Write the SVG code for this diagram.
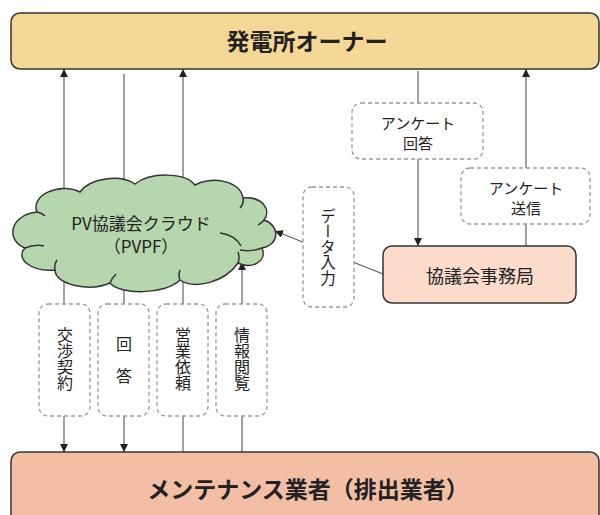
<svg xmlns="http://www.w3.org/2000/svg" width="600" height="515" viewBox="0 0 600 515">
<defs>
<marker id="ah" viewBox="0 0 8 8" refX="8" refY="4" markerWidth="8" markerHeight="8" markerUnits="userSpaceOnUse" orient="auto-start-reverse">
<path d="M0,0 L8,4 L0,8 z" fill="#222"/>
</marker>
<style>
text{font-family:"Noto Sans CJK JP","Noto Sans",sans-serif;fill:#222;dominant-baseline:central;text-anchor:middle}
.big{font-size:23px;font-weight:700}
.mid{font-size:18px}
.sm{font-size:15px}
.vt{font-size:16px;writing-mode:vertical-rl}
.solid{stroke:#333;stroke-width:1.5}
.dash{fill:#fff;stroke:#999;stroke-width:1.3;stroke-dasharray:4 3}
.conn line{stroke:#444;stroke-width:1}
.hook{fill:none;stroke:#333;stroke-width:1.5}
</style>
</defs>
<g id="connectors" class="conn">
<line x1="64" y1="452" x2="64" y2="69" marker-start="url(#ah)" marker-end="url(#ah)"/>
<line x1="124" y1="74" x2="124" y2="452" marker-end="url(#ah)"/>
<line x1="183" y1="452" x2="183" y2="69" marker-end="url(#ah)"/>
<line x1="242" y1="452" x2="242" y2="262" marker-end="url(#ah)"/>
<line x1="418" y1="71" x2="418" y2="246" marker-end="url(#ah)"/>
<line x1="526" y1="246" x2="526" y2="69" marker-end="url(#ah)"/>
<line x1="383" y1="274" x2="275" y2="231" marker-end="url(#ah)"/>
</g>
<g id="owner">
<rect x="11" y="13" width="588" height="56" rx="9" fill="#f5d895" class="solid"/>
<text x="307" y="40" class="big">発電所オーナー</text>
</g>
<g id="maintenance">
<rect x="11" y="452" width="588" height="75" rx="9" fill="#f2bfa5" class="solid"/>
<text x="308" y="488" class="big">メンテナンス業者（排出業者）</text>
</g>
<g id="cloud">
<path d="M37,212 C30,195 60,182 80,192 C90,178 120,174 135,184 C150,172 185,172 195,185 C210,176 240,180 243,198 C262,196 272,210 264,220 C280,225 280,245 262,248 C268,262 250,270 238,263 C225,282 195,290 180,280 C165,295 120,295 110,283 C90,292 55,285 55,270 C30,272 15,258 25,248 C5,240 10,215 37,212 Z" fill="#b6d6ae" class="solid"/>
<path class="hook" d="M37,212 Q42,213 45,216 M243,198 Q244,204 240,208 M264,220 Q262,223 258,225 M220,233 Q235,235 241,246 M262,248 Q252,252 240,250 M238,263 Q240,258 238,252 M25,248 Q35,244 44,246 M55,270 Q54,264 57,260 M110,283 Q112,278 116,274 M180,280 Q178,276 180,270"/>
<text x="141" y="222" class="mid" style="font-size:17px">PV協議会クラウド</text>
<text x="141" y="245" class="mid" style="font-size:17px">（PVPF）</text>
</g>
<g id="office">
<rect x="383" y="246" width="193" height="57" rx="9" fill="#fbdccb" class="solid"/>
<text x="480" y="275" class="mid">協議会事務局</text>
</g>
<g id="survey-answer">
<rect x="352" y="103" width="131" height="56" rx="9" class="dash"/>
<text x="418" y="122" class="sm">アンケート</text>
<text x="418" y="142" class="sm">回答</text>
</g>
<g id="survey-send">
<rect x="461" y="168" width="129" height="56" rx="9" class="dash"/>
<text x="526" y="187" class="sm">アンケート</text>
<text x="526" y="207" class="sm">送信</text>
</g>
<g id="data-input">
<rect x="303" y="187" width="51" height="120" rx="9" class="dash"/>
<text x="328" y="247" class="vt" style="font-size:15.5px">データ入力</text>
</g>
<g id="negotiation">
<rect x="39" y="304" width="51" height="112" rx="9" class="dash"/>
<text x="65" y="359" class="vt">交渉契約</text>
</g>
<g id="reply">
<rect x="98" y="304" width="51" height="112" rx="9" class="dash"/>
<text x="124" y="360" class="vt">回　答</text>
</g>
<g id="sales">
<rect x="157" y="304" width="51" height="112" rx="9" class="dash"/>
<text x="183" y="359" class="vt">営業依頼</text>
</g>
<g id="info">
<rect x="216" y="304" width="51" height="112" rx="9" class="dash"/>
<text x="242" y="359" class="vt">情報閲覧</text>
</g>
</svg>
